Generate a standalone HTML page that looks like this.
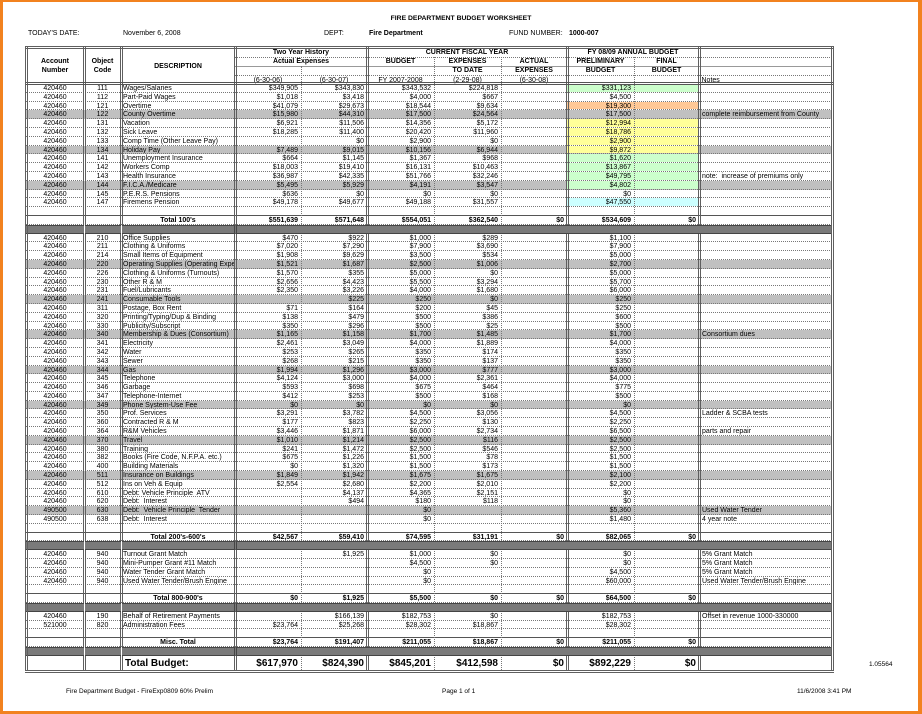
<!DOCTYPE html>
<html><head><meta charset="utf-8"><style>
*{margin:0;padding:0}
body{width:922px;height:714px;position:relative;overflow:hidden;background:#fff;font-family:"Liberation Sans",Arial,sans-serif;color:#000}
#frame{position:absolute;left:0;top:0;width:922px;height:714px;box-sizing:border-box;border-style:solid;border-color:#f2821f;border-width:2px 4px 3px 3px;z-index:10}
.tx{position:absolute;font-size:7px;line-height:8px;white-space:nowrap}
.b{font-weight:bold}
#body{position:absolute;left:26px;top:84px;width:806px}
.r{display:grid;grid-template-columns:58px 37px 114px 66px 66px 67px 67px 66px 67px 65px 133px;grid-template-rows:7.81px;height:8.81px;box-sizing:border-box;border-bottom:1px dotted #777;font-size:7px;line-height:9px}
.r>i{font-style:normal;overflow:hidden;white-space:nowrap;display:block;height:100%}
.r>i:nth-child(1),.r>i:nth-child(2){text-align:center}
.r>i:nth-child(3){padding-left:2px}
.r>i:nth-child(n+4):nth-child(-n+10){text-align:right;padding-right:3px}
.r>i:nth-child(11){padding-left:3px}
.h{background:#c0c0c0}
.g>i:nth-child(9),.g>i:nth-child(10){background:#ccffcc}
.o>i:nth-child(9),.o>i:nth-child(10){background:#ffc896}
.y>i:nth-child(9),.y>i:nth-child(10){background:#ffff99}
.c>i:nth-child(9),.c>i:nth-child(10){background:#ccffff}
.e{border-bottom:1px solid #555}
.t>i{font-weight:bold}
.t>i:nth-child(3){text-align:center;padding-left:0}
.tb{height:14px;grid-template-rows:14px;font-size:10px;line-height:15px;border-bottom:none}
.tb>i{font-weight:bold}
.tb>i:nth-child(3){padding-left:4px}
.gb{height:8.81px;position:relative;z-index:2}
.gb>s{position:absolute;top:0;bottom:0;background:#7a7a7a;border-top:1px solid #444;border-bottom:1px solid #444;box-sizing:border-box}
.v{position:absolute;top:47px;height:624px;width:0;border-left:3px double #5f5f5f;z-index:1}
.vo{z-index:3}
.dv{position:absolute;width:0;border-left:1px dotted #777;z-index:1;height:0}
.hl{position:absolute;height:0;z-index:1}
.ht{position:absolute;text-align:center;font-weight:bold;height:9px;line-height:9px;white-space:nowrap;font-size:7px}
.hn{font-weight:normal}
</style></head><body>
<div id="frame"></div>

<div class="tx b" style="left:0;width:922px;text-align:center;top:15px;font-size:6.8px">FIRE DEPARTMENT BUDGET WORKSHEET</div>
<div class="tx" style="left:28px;top:30px">TODAY'S DATE:</div>
<div class="tx" style="left:123px;top:30px">November 6, 2008</div>
<div class="tx" style="left:324px;top:30px">DEPT:</div>
<div class="tx b" style="left:369px;top:30px">Fire Department</div>
<div class="tx" style="left:509px;top:30px">FUND NUMBER:</div>
<div class="tx b" style="left:569px;top:30px">1000-007</div>

<div class="ht" style="left:26px;width:58px;top:57.2px">Account</div>
<div class="ht" style="left:26px;width:58px;top:65.8px">Number</div>
<div class="ht" style="left:84px;width:37px;top:57.2px">Object</div>
<div class="ht" style="left:84px;width:37px;top:65.8px">Code</div>
<div class="ht" style="left:121px;width:114px;top:61.5px">DESCRIPTION</div>
<div class="ht" style="left:235px;width:132px;top:47.5px">Two Year History</div>
<div class="ht" style="left:235px;width:132px;top:57px">Actual Expenses</div>
<div class="ht hn" style="left:235px;width:66px;top:75.5px">(6-30-06)</div>
<div class="ht hn" style="left:301px;width:66px;top:75.5px">(6-30-07)</div>
<div class="ht" style="left:367px;width:200px;top:47.5px">CURRENT FISCAL YEAR</div>
<div class="ht" style="left:367px;width:67px;top:57px">BUDGET</div>
<div class="ht" style="left:434px;width:67px;top:57px">EXPENSES</div>
<div class="ht" style="left:501px;width:66px;top:57px">ACTUAL</div>
<div class="ht" style="left:434px;width:67px;top:66.3px">TO DATE</div>
<div class="ht" style="left:501px;width:66px;top:66.3px">EXPENSES</div>
<div class="ht hn" style="left:367px;width:67px;top:75.5px">FY 2007-2008</div>
<div class="ht hn" style="left:434px;width:67px;top:75.5px">(2-29-08)</div>
<div class="ht hn" style="left:501px;width:66px;top:75.5px">(6-30-08)</div>
<div class="ht" style="left:567px;width:132px;top:47.5px">FY 08/09 ANNUAL BUDGET</div>
<div class="ht" style="left:567px;width:67px;top:57px">PRELIMINARY</div>
<div class="ht" style="left:634px;width:65px;top:57px">FINAL</div>
<div class="ht" style="left:567px;width:67px;top:66.3px">BUDGET</div>
<div class="ht" style="left:634px;width:65px;top:66.3px">BUDGET</div>
<div class="ht hn" style="left:701.5px;top:75.5px;text-align:left">Notes</div>

<div class="hl" style="left:24.5px;width:809px;top:46px;border-top:3px double #5f5f5f;z-index:3"></div>
<div class="hl" style="left:235px;width:597px;top:56.5px;border-top:1px dotted #777"></div>
<div class="hl" style="left:235px;width:597px;top:65.5px;border-top:1px solid #999"></div>
<div class="hl" style="left:235px;width:597px;top:75px;border-top:1px dotted #777"></div>
<div class="hl" style="left:24.5px;width:809px;top:82px;border-top:3px double #555;z-index:3"></div>
<div class="hl" style="left:24.5px;width:809px;top:669.5px;border-top:3px double #5f5f5f;z-index:3"></div>

<div class="v vo" style="left:24.5px"></div>
<div class="v" style="left:82.5px"></div>
<div class="v" style="left:119.5px"></div>
<div class="v" style="left:233.5px"></div>
<div class="v" style="left:365.5px"></div>
<div class="v" style="left:565.5px"></div>
<div class="v" style="left:697.5px"></div>
<div class="v vo" style="left:830.5px"></div>
<div class="dv" style="left:301px;top:66px;height:604px"></div>
<div class="dv" style="left:434px;top:57px;height:613px"></div>
<div class="dv" style="left:501px;top:57px;height:613px"></div>
<div class="dv" style="left:634px;top:57px;height:613px"></div>

<div id="body">
<div class="r g"><i>420460</i><i>111</i><i>Wages/Salaries</i><i>$349,905</i><i>$343,830</i><i>$343,532</i><i>$224,818</i><i></i><i>$331,123</i><i></i><i></i></div>
<div class="r"><i>420460</i><i>112</i><i>Part-Paid Wages</i><i>$1,018</i><i>$3,418</i><i>$4,000</i><i>$667</i><i></i><i>$4,500</i><i></i><i></i></div>
<div class="r o"><i>420460</i><i>121</i><i>Overtime</i><i>$41,079</i><i>$29,673</i><i>$18,544</i><i>$9,634</i><i></i><i>$19,300</i><i></i><i></i></div>
<div class="r h"><i>420460</i><i>122</i><i>County Overtime</i><i>$15,980</i><i>$44,310</i><i>$17,500</i><i>$24,564</i><i></i><i>$17,500</i><i></i><i>complete reimbursement from County</i></div>
<div class="r y"><i>420460</i><i>131</i><i>Vacation</i><i>$6,921</i><i>$11,506</i><i>$14,356</i><i>$5,172</i><i></i><i>$12,994</i><i></i><i></i></div>
<div class="r y"><i>420460</i><i>132</i><i>Sick Leave</i><i>$18,285</i><i>$11,400</i><i>$20,420</i><i>$11,960</i><i></i><i>$18,786</i><i></i><i></i></div>
<div class="r y"><i>420460</i><i>133</i><i>Comp Time (Other Leave Pay)</i><i></i><i>$0</i><i>$2,900</i><i>$0</i><i></i><i>$2,900</i><i></i><i></i></div>
<div class="r h y"><i>420460</i><i>134</i><i>Holiday Pay</i><i>$7,489</i><i>$9,015</i><i>$10,156</i><i>$6,944</i><i></i><i>$9,872</i><i></i><i></i></div>
<div class="r g"><i>420460</i><i>141</i><i>Unemployment Insurance</i><i>$664</i><i>$1,145</i><i>$1,367</i><i>$968</i><i></i><i>$1,620</i><i></i><i></i></div>
<div class="r g"><i>420460</i><i>142</i><i>Workers Comp</i><i>$18,003</i><i>$19,410</i><i>$16,131</i><i>$10,463</i><i></i><i>$13,867</i><i></i><i></i></div>
<div class="r g"><i>420460</i><i>143</i><i>Health Insurance</i><i>$36,987</i><i>$42,335</i><i>$51,766</i><i>$32,246</i><i></i><i>$49,795</i><i></i><i>note:&nbsp; increase of premiums only</i></div>
<div class="r h g"><i>420460</i><i>144</i><i>F.I.C.A./Medicare</i><i>$5,495</i><i>$5,929</i><i>$4,191</i><i>$3,547</i><i></i><i>$4,802</i><i></i><i></i></div>
<div class="r"><i>420460</i><i>145</i><i>P.E.R.S. Pensions</i><i>$636</i><i>$0</i><i>$0</i><i>$0</i><i></i><i>$0</i><i></i><i></i></div>
<div class="r c"><i>420460</i><i>147</i><i>Firemens Pension</i><i>$49,178</i><i>$49,677</i><i>$49,188</i><i>$31,557</i><i></i><i>$47,550</i><i></i><i></i></div>
<div class="r e"></div>
<div class="r t"><i></i><i></i><i>Total 100's</i><i>$551,639</i><i>$571,648</i><i>$554,051</i><i>$362,540</i><i>$0</i><i>$534,609</i><i>$0</i><i></i></div>
<div class="gb"><s style="left:0;width:57.5px"></s><s style="left:58.5px;width:36px"></s><s style="left:95.5px;width:112px"></s><s style="left:207.5px;width:598.5px;border-left:3px double #444"></s></div>

<div class="r"><i>420460</i><i>210</i><i>Office Supplies</i><i>$470</i><i>$922</i><i>$1,000</i><i>$289</i><i></i><i>$1,100</i><i></i><i></i></div>
<div class="r"><i>420460</i><i>211</i><i>Clothing &amp; Uniforms</i><i>$7,020</i><i>$7,290</i><i>$7,900</i><i>$3,690</i><i></i><i>$7,900</i><i></i><i></i></div>
<div class="r"><i>420460</i><i>214</i><i>Small Items of Equipment</i><i>$1,908</i><i>$9,629</i><i>$3,500</i><i>$534</i><i></i><i>$5,000</i><i></i><i></i></div>
<div class="r h"><i>420460</i><i>220</i><i>Operating Supplies (Operating Expe</i><i>$1,521</i><i>$1,687</i><i>$2,500</i><i>$1,006</i><i></i><i>$2,700</i><i></i><i></i></div>
<div class="r"><i>420460</i><i>226</i><i>Clothing &amp; Uniforms (Turnouts)</i><i>$1,570</i><i>$355</i><i>$5,000</i><i>$0</i><i></i><i>$5,000</i><i></i><i></i></div>
<div class="r"><i>420460</i><i>230</i><i>Other R &amp; M</i><i>$2,656</i><i>$4,423</i><i>$5,500</i><i>$3,294</i><i></i><i>$5,700</i><i></i><i></i></div>
<div class="r"><i>420460</i><i>231</i><i>Fuel/Lubricants</i><i>$2,350</i><i>$3,226</i><i>$4,000</i><i>$1,680</i><i></i><i>$6,000</i><i></i><i></i></div>
<div class="r h"><i>420460</i><i>241</i><i>Consumable Tools</i><i></i><i>$225</i><i>$250</i><i>$0</i><i></i><i>$250</i><i></i><i></i></div>
<div class="r"><i>420460</i><i>311</i><i>Postage, Box Rent</i><i>$71</i><i>$164</i><i>$200</i><i>$45</i><i></i><i>$250</i><i></i><i></i></div>
<div class="r"><i>420460</i><i>320</i><i>Printing/Typing/Dup &amp; Binding</i><i>$138</i><i>$479</i><i>$500</i><i>$386</i><i></i><i>$600</i><i></i><i></i></div>
<div class="r"><i>420460</i><i>330</i><i>Publicity/Subscript</i><i>$350</i><i>$296</i><i>$500</i><i>$25</i><i></i><i>$500</i><i></i><i></i></div>
<div class="r h"><i>420460</i><i>340</i><i>Membership &amp; Dues (Consortium)</i><i>$1,165</i><i>$1,158</i><i>$1,700</i><i>$1,485</i><i></i><i>$1,700</i><i></i><i>Consortium dues</i></div>
<div class="r"><i>420460</i><i>341</i><i>Electricity</i><i>$2,461</i><i>$3,049</i><i>$4,000</i><i>$1,889</i><i></i><i>$4,000</i><i></i><i></i></div>
<div class="r"><i>420460</i><i>342</i><i>Water</i><i>$253</i><i>$265</i><i>$350</i><i>$174</i><i></i><i>$350</i><i></i><i></i></div>
<div class="r"><i>420460</i><i>343</i><i>Sewer</i><i>$268</i><i>$215</i><i>$350</i><i>$137</i><i></i><i>$350</i><i></i><i></i></div>
<div class="r h"><i>420460</i><i>344</i><i>Gas</i><i>$1,994</i><i>$1,296</i><i>$3,000</i><i>$777</i><i></i><i>$3,000</i><i></i><i></i></div>
<div class="r"><i>420460</i><i>345</i><i>Telephone</i><i>$4,124</i><i>$3,000</i><i>$4,000</i><i>$2,361</i><i></i><i>$4,000</i><i></i><i></i></div>
<div class="r"><i>420460</i><i>346</i><i>Garbage</i><i>$593</i><i>$698</i><i>$675</i><i>$464</i><i></i><i>$775</i><i></i><i></i></div>
<div class="r"><i>420460</i><i>347</i><i>Telephone-Internet</i><i>$412</i><i>$253</i><i>$500</i><i>$168</i><i></i><i>$500</i><i></i><i></i></div>
<div class="r h"><i>420460</i><i>349</i><i>Phone System-Use Fee</i><i>$0</i><i>$0</i><i>$0</i><i>$0</i><i></i><i>$0</i><i></i><i></i></div>
<div class="r"><i>420460</i><i>350</i><i>Prof. Services</i><i>$3,291</i><i>$3,782</i><i>$4,500</i><i>$3,056</i><i></i><i>$4,500</i><i></i><i>Ladder &amp; SCBA tests</i></div>
<div class="r"><i>420460</i><i>360</i><i>Contracted R &amp; M</i><i>$177</i><i>$823</i><i>$2,250</i><i>$130</i><i></i><i>$2,250</i><i></i><i></i></div>
<div class="r"><i>420460</i><i>364</i><i>R&amp;M Vehicles</i><i>$3,446</i><i>$1,871</i><i>$6,000</i><i>$2,734</i><i></i><i>$6,500</i><i></i><i>parts and repair</i></div>
<div class="r h"><i>420460</i><i>370</i><i>Travel</i><i>$1,010</i><i>$1,214</i><i>$2,500</i><i>$116</i><i></i><i>$2,500</i><i></i><i></i></div>
<div class="r"><i>420460</i><i>380</i><i>Training</i><i>$241</i><i>$1,472</i><i>$2,500</i><i>$546</i><i></i><i>$2,500</i><i></i><i></i></div>
<div class="r"><i>420460</i><i>382</i><i>Books (Fire Code, N.F.P.A. etc.)</i><i>$675</i><i>$1,226</i><i>$1,500</i><i>$78</i><i></i><i>$1,500</i><i></i><i></i></div>
<div class="r"><i>420460</i><i>400</i><i>Building Materials</i><i>$0</i><i>$1,320</i><i>$1,500</i><i>$173</i><i></i><i>$1,500</i><i></i><i></i></div>
<div class="r h"><i>420460</i><i>511</i><i>Insurance on Buildings</i><i>$1,849</i><i>$1,942</i><i>$1,675</i><i>$1,675</i><i></i><i>$2,100</i><i></i><i></i></div>
<div class="r"><i>420460</i><i>512</i><i>Ins on Veh &amp; Equip</i><i>$2,554</i><i>$2,680</i><i>$2,200</i><i>$2,010</i><i></i><i>$2,200</i><i></i><i></i></div>
<div class="r"><i>420460</i><i>610</i><i>Debt: Vehicle Principle&nbsp; ATV</i><i></i><i>$4,137</i><i>$4,365</i><i>$2,151</i><i></i><i>$0</i><i></i><i></i></div>
<div class="r"><i>420460</i><i>620</i><i>Debt:&nbsp; Interest</i><i></i><i>$494</i><i>$180</i><i>$118</i><i></i><i>$0</i><i></i><i></i></div>
<div class="r h"><i>490500</i><i>630</i><i>Debt:&nbsp; Vehicle Principle&nbsp; Tender</i><i></i><i></i><i>$0</i><i></i><i></i><i>$5,360</i><i></i><i>Used Water Tender</i></div>
<div class="r"><i>490500</i><i>638</i><i>Debt:&nbsp; Interest</i><i></i><i></i><i>$0</i><i></i><i></i><i>$1,480</i><i></i><i>4 year note</i></div>
<div class="r e"></div>
<div class="r t"><i></i><i></i><i>Total 200's-600's</i><i>$42,567</i><i>$59,410</i><i>$74,595</i><i>$31,191</i><i>$0</i><i>$82,065</i><i>$0</i><i></i></div>
<div class="gb"><s style="left:0;width:57.5px"></s><s style="left:58.5px;width:36px"></s><s style="left:95.5px;width:112px"></s><s style="left:207.5px;width:598.5px;border-left:3px double #444"></s></div>

<div class="r"><i>420460</i><i>940</i><i>Turnout Grant Match</i><i></i><i>$1,925</i><i>$1,000</i><i>$0</i><i></i><i>$0</i><i></i><i>5% Grant Match</i></div>
<div class="r"><i>420460</i><i>940</i><i>Mini-Pumper Grant #11 Match</i><i></i><i></i><i>$4,500</i><i>$0</i><i></i><i>$0</i><i></i><i>5% Grant Match</i></div>
<div class="r"><i>420460</i><i>940</i><i>Water Tender Grant Match</i><i></i><i></i><i>$0</i><i></i><i></i><i>$4,500</i><i></i><i>5% Grant Match</i></div>
<div class="r"><i>420460</i><i>940</i><i>Used Water Tender/Brush Engine</i><i></i><i></i><i>$0</i><i></i><i></i><i>$60,000</i><i></i><i>Used Water Tender/Brush Engine</i></div>
<div class="r e"></div>
<div class="r t"><i></i><i></i><i>Total 800-900's</i><i>$0</i><i>$1,925</i><i>$5,500</i><i>$0</i><i>$0</i><i>$64,500</i><i>$0</i><i></i></div>
<div class="gb"><s style="left:0;width:57.5px"></s><s style="left:58.5px;width:36px"></s><s style="left:95.5px;width:112px"></s><s style="left:207.5px;width:598.5px;border-left:3px double #444"></s></div>

<div class="r"><i>420460</i><i>190</i><i>Behalf of Retirement Payments</i><i></i><i>$166,139</i><i>$182,753</i><i>$0</i><i></i><i>$182,753</i><i></i><i>Offset in revenue 1000-330000</i></div>
<div class="r"><i>521000</i><i>820</i><i>Administration Fees</i><i>$23,764</i><i>$25,268</i><i>$28,302</i><i>$18,867</i><i></i><i>$28,302</i><i></i><i></i></div>
<div class="r e"></div>
<div class="r t"><i></i><i></i><i>Misc. Total</i><i>$23,764</i><i>$191,407</i><i>$211,055</i><i>$18,867</i><i>$0</i><i>$211,055</i><i>$0</i><i></i></div>
<div class="gb"><s style="left:0;width:57.5px"></s><s style="left:58.5px;width:36px"></s><s style="left:95.5px;width:112px"></s><s style="left:207.5px;width:598.5px;border-left:3px double #444"></s></div>
<div class="r tb"><i></i><i></i><i>Total Budget:</i><i>$617,970</i><i>$824,390</i><i>$845,201</i><i>$412,598</i><i>$0</i><i>$892,229</i><i>$0</i><i></i></div>
</div>

<div class="tx" style="left:869px;top:661px;font-size:6.5px">1.05564</div>
<div class="tx" style="left:66px;top:688px;font-size:6.5px">Fire Department Budget - FireExp0809 60% Prelim</div>
<div class="tx" style="left:442px;top:688px;font-size:6.5px">Page 1 of 1</div>
<div class="tx" style="left:797px;top:688px;font-size:6.5px">11/6/2008 3:41 PM</div>
</body></html>
